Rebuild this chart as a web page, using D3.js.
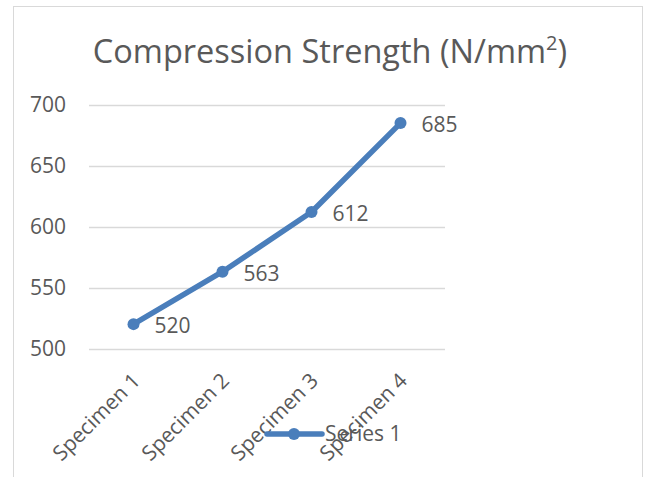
<!DOCTYPE html>
<html>
<head>
<meta charset="utf-8">
<script src="https://cdn.jsdelivr.net/npm/d3@7"></script>
<style>
  body { margin: 0; background: #fff; }
  svg { display: block; font-family: "Open Sans", sans-serif; }
</style>
</head>
<body>
<div id="chart"></div>
<script>
'use strict';

// chart data
const categories = ["Specimen 1", "Specimen 2", "Specimen 3", "Specimen 4"];
const values = [520, 563, 612, 685];
const yTicks = [500, 550, 600, 650, 700];
const seriesName = "Series 1";

const width = 648, height = 477;
const textColor = "#595959";
const lineColor = "#4a7ebb";

const svg = d3.select("#chart").append("svg")
    .attr("width", width)
    .attr("height", height);

// chart frame
svg.append("rect")
    .attr("x", 13.5).attr("y", 6.5)
    .attr("width", 629).attr("height", 480)
    .attr("fill", "#fff")
    .attr("stroke", "#d9d9d9");

// title
const title = svg.append("text")
    .attr("x", 330).attr("y", 63)
    .attr("text-anchor", "middle")
    .attr("fill", textColor)
    .style("font-size", "32.5px");
title.append("tspan").text("Compression Strength (N/mm");
title.append("tspan").attr("dy", -13).style("font-size", "20px").text("2");
title.append("tspan").attr("dy", 13).text(")");

const x = d3.scaleBand().domain(categories).range([89, 445]);
const y = d3.scaleLinear().domain([500, 700]).range([348.5, 104.8]);

// gridlines
svg.append("g")
    .selectAll("line")
    .data(yTicks)
    .join("line")
    .attr("x1", 89).attr("x2", 445)
    .attr("y1", d => Math.round(y(d)) + 0.5)
    .attr("y2", d => Math.round(y(d)) + 0.5)
    .attr("stroke", "#d9d9d9")
    .attr("stroke-width", 1.3);

// y axis labels
svg.append("g")
    .selectAll("text")
    .data(yTicks)
    .join("text")
    .attr("x", 66)
    .attr("y", d => y(d))
    .attr("dy", "0.35em")
    .attr("text-anchor", "end")
    .attr("fill", textColor)
    .style("font-size", "21px")
    .text(d => d);

// x axis labels, rotated
svg.append("g")
    .selectAll("text")
    .data(categories)
    .join("text")
    .attr("transform", d => `translate(${x(d) + x.bandwidth() / 2 + 8},${382}) rotate(-45)`)
    .attr("text-anchor", "end")
    .attr("fill", textColor)
    .style("font-size", "21px")
    .text(d => d);

// line
const cx = (d, i) => x(categories[i]) + x.bandwidth() / 2;
const line = d3.line()
    .x((d, i) => cx(d, i))
    .y(d => y(d));

svg.append("path")
    .datum(values)
    .attr("d", line)
    .attr("fill", "none")
    .attr("stroke", lineColor)
    .attr("stroke-width", 5.5)
    .attr("stroke-linejoin", "round");

svg.append("g")
    .selectAll("circle")
    .data(values)
    .join("circle")
    .attr("cx", cx)
    .attr("cy", d => y(d))
    .attr("r", 6)
    .attr("fill", lineColor);

// data labels
svg.append("g")
    .selectAll("text")
    .data(values)
    .join("text")
    .attr("x", (d, i) => cx(d, i) + 21)
    .attr("y", d => y(d) + 2)
    .attr("dy", "0.35em")
    .attr("fill", textColor)
    .style("font-size", "21px")
    .text(d => d);

// legend
const legend = svg.append("g");
legend.append("line")
    .attr("x1", 267).attr("x2", 322)
    .attr("y1", 434).attr("y2", 434)
    .attr("stroke", lineColor)
    .attr("stroke-width", 5.5)
    .attr("stroke-linecap", "round");
legend.append("circle")
    .attr("cx", 294).attr("cy", 434)
    .attr("r", 6)
    .attr("fill", lineColor);
legend.append("text")
    .attr("x", 325).attr("y", 434)
    .attr("dy", "0.35em")
    .attr("fill", textColor)
    .style("font-size", "21px")
    .text(seriesName);
</script>
</body>
</html>
